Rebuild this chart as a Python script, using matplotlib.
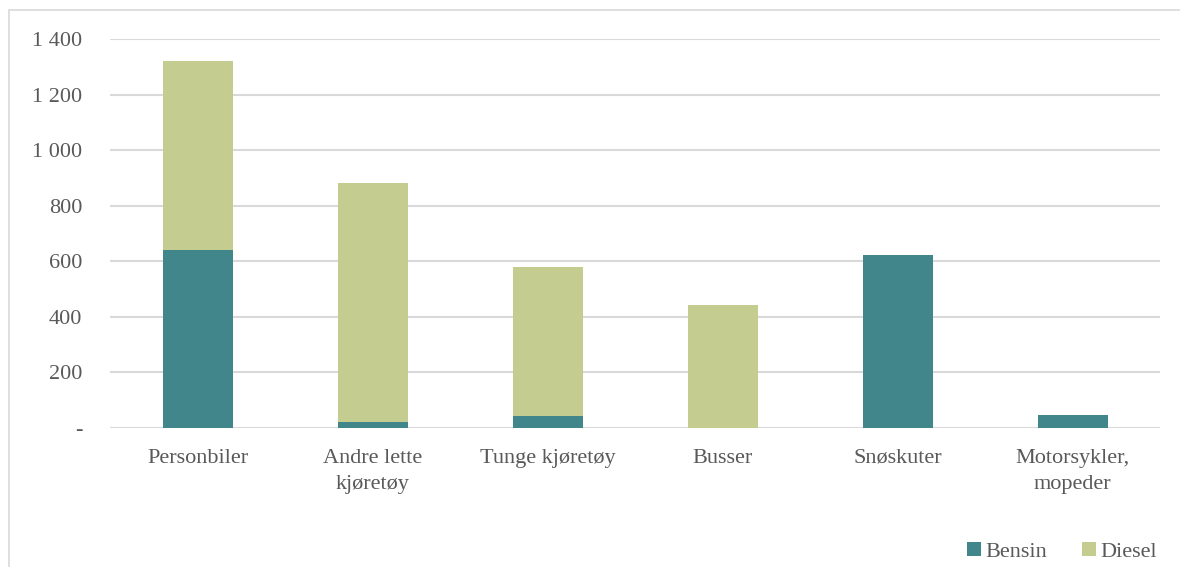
import numpy as np
import matplotlib.pyplot as plt
from matplotlib.patches import Rectangle
from matplotlib.ticker import FuncFormatter

categories = ["Personbiler", "Andre lette\nkjøretøy", "Tunge kjøretøy", "Busser",
              "Snøskuter", "Motorsykler,\nmopeder"]
bensin = [641, 20, 43, 0, 623, 47]
diesel = [680, 862, 537, 443, 0, 0]

plt.rcParams['font.family'] = ['Liberation Serif', 'DejaVu Serif']

c_bensin = "#40868A"
c_diesel = "#C5CC8F"
txt = "#595959"

W, H = 1180, 567
fig = plt.figure(figsize=(W / 100, H / 100), dpi=100)
ax = fig.add_axes([110 / W, 1 - 428 / H, 1050 / W, (428 - 39) / H])

# outer frame, open at right and bottom
fig.patches.append(Rectangle((9 / W, -0.1), 1.2, 1 - 10 / H + 0.1, transform=fig.transFigure,
                             fill=False, edgecolor="#D9D9D9", linewidth=1.2))

x = np.arange(len(categories))
ax.bar(x, bensin, width=0.4, color=c_bensin, label="Bensin", zorder=3)
ax.bar(x, diesel, width=0.4, bottom=bensin, color=c_diesel, label="Diesel", zorder=3)

ax.set_xlim(-0.5, len(categories) - 0.5)
ax.set_ylim(0, 1400)
ax.set_yticks(np.arange(0, 1401, 200))
ax.yaxis.set_major_formatter(FuncFormatter(
    lambda v, p: "-" if v == 0 else f"{int(v):,}".replace(",", " ")))
ax.grid(axis="y", color="#D9D9D9", linewidth=1.5, zorder=0)
for s in ax.spines.values():
    s.set_visible(False)
ax.tick_params(axis="both", length=0, labelsize=16, colors=txt)
ax.tick_params(axis="y", pad=20)
ax.tick_params(axis="x", pad=15)
ax.set_xticks(x)
ax.set_xticklabels(categories, linespacing=1.5)

ax.legend(loc="lower right", bbox_to_anchor=(1.016, -0.395), ncol=2, frameon=False,
          fontsize=16, labelcolor=txt, handlelength=0.6, handleheight=0.6,
          handletextpad=0.2, columnspacing=1.6)

fig.savefig("out.png", dpi=100)
